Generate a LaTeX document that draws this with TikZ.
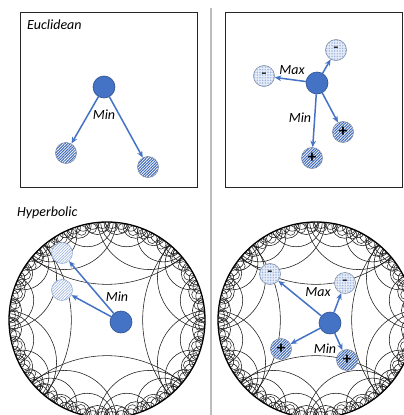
\documentclass[tikz,border=0pt]{standalone}
\usepackage{fontspec}
\setmainfont{Carlito}
\usetikzlibrary{arrows.meta,patterns.meta}

\definecolor{nodeblue}{HTML}{4472C4}
\definecolor{nodeedge}{HTML}{2F528F}
\definecolor{hatchblue}{HTML}{3E69BA}
\definecolor{palehatch}{HTML}{97B1DE}
\definecolor{dotblue}{HTML}{7C9BD3}
\definecolor{dotfill}{HTML}{EEF3FB}
\definecolor{ringgray}{HTML}{7F8FA8}
\definecolor{rulegray}{HTML}{BDBDBD}

\tikzset{
  panel/.style={draw=black!85, line width=1pt},
  lbl/.style={font=\fontsize{14}{16}\selectfont\itshape, inner sep=0pt},
  centre/.style={circle, minimum size=22pt, inner sep=0pt, fill=nodeblue, draw=nodeedge, line width=0.6pt},
  attract/.style={circle, minimum size=21pt, inner sep=0pt, draw=ringgray, line width=0.6pt,
    preaction={fill=white}, pattern={Lines[angle=45,distance=2pt,line width=1.05pt]}, pattern color=hatchblue,
    font=\fontsize{17}{17}\selectfont\bfseries},
  soft/.style={circle, minimum size=21pt, inner sep=0pt, draw=palehatch, line width=0.6pt,
    preaction={fill=white}, pattern={Lines[angle=45,distance=2pt,line width=0.6pt]}, pattern color=palehatch},
  repel/.style={circle, minimum size=21pt, inner sep=0pt, draw=ringgray, line width=0.6pt,
    preaction={fill=dotfill}, pattern={Dots[distance=1.6pt,radius=0.45pt]}, pattern color=dotblue,
    font=\fontsize{17}{17}\selectfont},
  arr/.style={draw=nodeblue, line width=1.5pt, -{Stealth[length=6.5pt,width=5.5pt]}},
  tilegeo/.style={draw=black!90, line width=0.55pt},
  tileloop/.style={draw=black!85, line width=0.5pt},
}

% Poincare disk: layered geodesics plus a chain of small loops along the rim, centred at #1
\newcommand\hypdisk[1]{%
  \begin{scope}[shift={#1}, x=98pt, y=98pt]
    \begin{scope}
      \clip (0,0) circle (1);
      \foreach \n/\h/\o in {4/50/0, 8/28/22.5, 16/15/11.25, 32/7.5/5.625, 64/3.8/2.8125}{
        \pgfmathsetmacro\stepang{360/\n}
        \foreach \k in {1,...,\n}{
          \draw[tilegeo] ({\o+\stepang*\k}:{1/cos(\h)}) circle[radius={tan(\h)}];
        }
      }
      \foreach \k in {1,...,56}{
        \draw[tileloop] ({\k*6.42857+3}:0.95) circle[radius=0.05];
      }
    \end{scope}
    \draw[line width=1.3pt] (0,0) circle (1);
  \end{scope}}

\begin{document}
\begin{tikzpicture}[x=1pt,y=-1pt]
  \useasboundingbox (0,0) rectangle (404,415);
  \clip (0,0) rectangle (404,415);
  \fill[white] (0,0) rectangle (404,415);

  % divider between the two columns
  \coordinate (sepTop) at (211,8);
  \coordinate (sepBot) at (211,415);
  \draw[rulegray, line width=1.5pt] (sepTop) -- (sepBot);

  % ---- Euclidean, attraction only
  \draw[panel] (20,12) rectangle (197,187);
  \node[lbl, anchor=west] (eTitle) at (27,25) {Euclidean};
  \node[centre] (e0) at (104,87) {};
  \node[attract] (e1) at (66,153) {};
  \node[attract] (e2) at (148,167) {};
  \node[lbl] (eMin) at (104,115) {Min};
  \draw[arr] (e0) -- (e1);
  \draw[arr] (e0) -- (e2);

  % ---- Euclidean, attraction and repulsion
  \draw[panel] (225,12) rectangle (402,187);
  \node[centre] (r0) at (317,83) {};
  \node[repel] (r1) at (336,50) {-};
  \node[repel] (r2) at (264,76) {-};
  \node[attract] (r3) at (343,132) {+};
  \node[attract] (r4) at (312,158) {+};
  \node[lbl] (rMax) at (292,70) {Max};
  \node[lbl] (rMin) at (300,118) {Min};
  \draw[arr] (r0) -- (r1);
  \draw[arr] (r0) -- (r2);
  \draw[arr] (r0) -- (r3);
  \draw[arr] (r0) -- (r4);

  % ---- Hyperbolic, attraction only
  \node[lbl, anchor=west] (hTitle) at (17,213) {Hyperbolic};
  \hypdisk{(107,320)}
  \node[soft] (h1) at (62,253) {};
  \node[soft] (h2) at (62,290) {};
  \node[centre] (h0) at (121,322) {};
  \node[lbl] (hMin) at (117,297) {Min};
  \draw[arr] (h0) -- (h1);
  \draw[arr] (h0) -- (h2);

  % ---- Hyperbolic, attraction and repulsion
  \hypdisk{(316,320)}
  \node[centre] (k0) at (330,323) {};
  \node[repel] (k1) at (270,274) {-};
  \node[repel] (k2) at (345,283) {-};
  \node[attract] (k3) at (281,349) {+};
  \node[attract] (k4) at (347,360) {+};
  \node[lbl] (kMax) at (318,292) {Max};
  \node[lbl] (kMin) at (325,349) {Min};
  \draw[arr] (k0) -- (k1);
  \draw[arr] (k0) -- (k2);
  \draw[arr] (k0) -- (k3);
  \draw[arr] (k0) -- (k4);
\end{tikzpicture}
\end{document}
